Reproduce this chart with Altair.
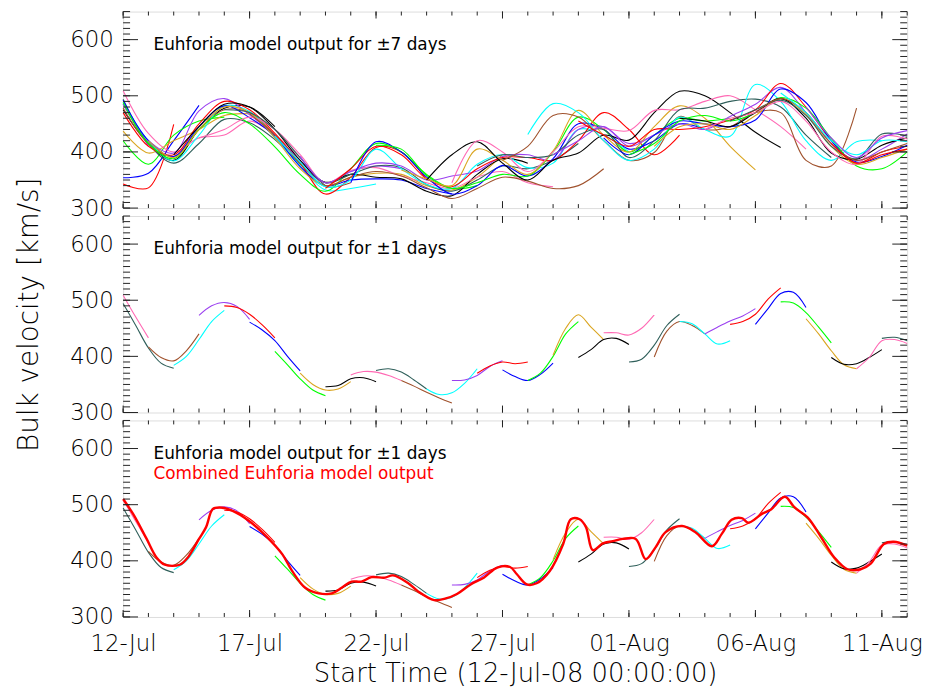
import json
import altair as alt
import pandas as pd

FONT = "DejaVu Sans"
WEIGHT = 200

# colour cycle of the forecast runs (index = centre day mod 10)
COLORS = ["#ff69b4", "#2f5f5a", "#a0522d", "#00ffff", "#9b40f0",
          "#ff0000", "#0000ff", "#00ff00", "#daa520", "#000000"]

# ---- +-7 day runs: centre day, daily values from max(0, d-7) ----
RUN_CENTERS = list(range(-6, 36))
RUN_VALUES = [
    [485, 410],
    [343, 336, 449],
    [354, 362, 420, 483],
    [420, 378, 430, 455, 462],
    [437, 398, 420, 440, 465, 468],
    [475, 415, 385, 440, 478, 480, 445],
    [509, 433, 400, 425, 430, 455, 430, 390],
    [494, 415, 380, 415, 458, 452, 422, 378, 340],
    [478, 415, 392, 440, 475, 470, 430, 380, 338, 345],
    [488, 420, 384, 430, 482, 472, 425, 375, 332, 335, 343],
    [485, 420, 398, 473, 495, 466, 430, 385, 345, 365, 375, 370],
    [470, 410, 395, 450, 490, 475, 433, 380, 325, 355, 408, 400, 350],
    [492, 420, 392, 445, 482, 461, 428, 374, 340, 350, 352, 350, 335, 325],
    [488, 415, 388, 440, 470, 450, 409, 360, 330, 370, 415, 400, 360, 335, 340],
    [420, 390, 440, 480, 470, 425, 370, 340, 355, 362, 360, 340, 332, 355, 395],
    [395, 445, 485, 480, 440, 385, 346, 360, 355, 352, 330, 322, 360, 388, 380],
    [425, 440, 462, 440, 395, 345, 367, 372, 357, 345, 335, 355, 365, 345, 338],
    [475, 470, 440, 390, 345, 360, 375, 372, 342, 330, 350, 375, 370, 385, 415],
    [468, 430, 380, 340, 355, 365, 357, 336, 317, 335, 355, 348, 335, 340, 370],
    [428, 382, 338, 350, 405, 370, 342, 335, 378, 395, 372, 380, 440, 430, 400],
    [392, 345, 365, 380, 375, 350, 357, 366, 392, 395, 385, 440, 445, 415, 430],
    [335, 370, 410, 395, 352, 338, 370, 390, 390, 385, 420, 470, 440, 395, 430],
    [345, 418, 400, 355, 325, 340, 376, 357, 388, 450, 440, 405, 420, 450, 440],
    [412, 405, 358, 335, 345, 360, 357, 400, 462, 440, 400, 430, 460, 455, 460],
    [368, 352, 340, 405, 385, 360, 402, 474, 430, 400, 445, 482, 460, 410, 368],
    [350, 395, 418, 380, 350, 385, 398, 430, 421, 470, 508, 500, 470, 435, 408],
    [345, 420, 400, 365, 400, 445, 442, 438, 474, 475, 490, 500, 475, 445, 405],
    [375, 395, 390, 395, 430, 440, 390, 420, 475, 478, 490, 494, 480, 430, 390],
    [385, 410, 465, 462, 420, 385, 399, 463, 440, 445, 470, 470, 385, 375, 478],
    [431, 486, 470, 420, 385, 405, 462, 440, 428, 520, 490, 420, 385, 418, 420],
    [395, 420, 445, 410, 430, 450, 440, 463, 485, 515, 470, 415, 385, 405, 432],
    [455, 430, 410, 440, 440, 445, 457, 475, 522, 480, 420, 380, 400, 410],
    [425, 395, 430, 455, 450, 445, 457, 512, 488, 420, 382, 392, 412],
    [395, 415, 455, 465, 455, 470, 497, 478, 424, 375, 370, 400],
    [410, 445, 450, 440, 465, 495, 467, 410, 378, 390, 405],
    [460, 455, 445, 470, 495, 460, 398, 387, 412, 425],
    [440, 460, 470, 490, 455, 400, 378, 428, 423],
    [455, 475, 492, 465, 410, 388, 432, 428],
    [470, 495, 470, 415, 385, 400, 415],
    [505, 470, 420, 395, 420, 418],
    [480, 425, 390, 425, 438],
    [415, 380, 395, 405],
]

# ---- +-1 day segments: centre day, half-day values from max(0, d-1) ----
SEG_CENTERS = list(range(0, 32))
SEG_VALUES = [
    [509, 470, 433],
    [494, 455, 415, 388, 379],
    [417, 398, 392, 410, 440],
    [384, 400, 430, 462, 482],
    [473, 490, 496, 489, 466],
    [490, 487, 475, 456, 433],
    [461, 447, 428, 400, 374],
    [409, 385, 360, 340, 330],
    [370, 350, 340, 342, 355],
    [346, 348, 360, 362, 355],
    [367, 373, 372, 366, 357],
    [375, 378, 372, 358, 342],
    [357, 347, 336, 326, 317],
    [342, 332, 335, 352, 378],
    [357, 358, 366, 382, 392],
    [370, 383, 390, 387, 390],
    [376, 364, 357, 368, 388],
    [357, 370, 400, 440, 462],
    [402, 450, 474, 452, 430],
    [398, 412, 430, 432, 421],
    [442, 442, 438, 450, 474],
    [390, 395, 420, 455, 475],
    [399, 445, 462, 455, 440],
    [462, 458, 440, 422, 428],
    [440, 452, 463, 472, 485],
    [457, 462, 475, 502, 522],
    [457, 485, 512, 514, 487],
    [497, 495, 478, 452, 424],
    [467, 440, 410, 385, 378],
    [398, 386, 387, 398, 412],
    [378, 398, 428, 430, 423],
    [432, 434, 428],
]

# ---- combined model output ----
COMB_DAYS = [0, 0.4, 0.93, 1.32, 1.65, 2.24, 2.56, 3.0, 3.28, 3.54,
             3.8, 4.33, 4.98, 5.63, 6.29, 6.68, 7.2, 7.73, 8.25, 8.64,
             9.03, 9.42, 9.82, 10.34, 10.67, 11.25, 11.65, 12.3, 12.76, 13.2,
             13.74, 14.26, 14.79, 15.3, 15.57, 15.96, 16.35, 16.87, 17.4, 17.7,
             18.05, 18.3, 18.57, 18.97, 19.36, 19.75, 20.27, 20.66, 21.05, 21.45,
             22.1, 22.63, 23.28, 23.67, 24.06, 24.46, 24.72, 25.24, 25.63, 26.16,
             26.55, 27.07, 27.6, 28.12, 28.64, 29.16, 29.56, 30.08, 30.47, 31.0]
COMB_VALUES = [510, 483, 439, 406, 393, 393, 406, 439, 460, 492,
               495, 489, 471, 445, 412, 382, 352, 342, 342, 352,
               363, 363, 371, 370, 374, 361, 346, 330, 333, 341,
               358, 370, 388, 389, 376, 358, 360, 382, 430, 474,
               474, 460, 419, 431, 435, 439, 439, 403, 424, 451,
               462, 451, 426, 448, 473, 476, 468, 483, 492, 514,
               495, 477, 442, 406, 385, 385, 395, 430, 434, 427]

X_TICK_DAYS = [0, 5, 10, 15, 20, 25, 30]
X_TICK_LABELS = ["12-Jul", "17-Jul", "22-Jul", "27-Jul", "01-Aug", "06-Aug", "11-Aug"]
Y_TICKS = [300, 400, 500, 600]
X_DOMAIN = [0, 31]
Y_DOMAIN = [300, 650]

TXT7 = "Euhforia model output for \u00b17 days"
TXT1 = "Euhforia model output for \u00b11 days"
TXTC = "Combined Euhforia model output"
YTITLE = "Bulk velocity [km/s]"
XTITLE = "Start Time (12-Jul-08 00:00:00)"

W, H = 790, 198

# ---------------- tables ----------------
run_rows = []
for i, (d, vals) in enumerate(zip(RUN_CENTERS, RUN_VALUES)):
    s = max(0, d - 7)
    for k, v in enumerate(vals):
        run_rows.append({"run": i, "day": s + k, "v": v, "c": COLORS[d % 10]})
runs_df = pd.DataFrame(run_rows)

seg_rows = []
for i, (d, vals) in enumerate(zip(SEG_CENTERS, SEG_VALUES)):
    s = max(0, d - 1)
    for k, v in enumerate(vals):
        seg_rows.append({"run": i, "day": s + 0.5 * k, "v": v, "c": COLORS[d % 10]})
seg_df = pd.DataFrame(seg_rows)

comb_df = pd.DataFrame({"day": COMB_DAYS, "v": COMB_VALUES})

ymin = pd.DataFrame({"v": [v for v in range(300, 651, 10)]})
ymaj = pd.DataFrame({"v": Y_TICKS})
xmin = pd.DataFrame({"day": list(range(0, 32))})
xmaj = pd.DataFrame({"day": X_TICK_DAYS})

xscale = alt.Scale(domain=X_DOMAIN, nice=False, zero=False)
yscale = alt.Scale(domain=Y_DOMAIN, nice=False, zero=False)

label_expr = json.dumps(X_TICK_LABELS) + "[round(datum.value / 5)]"


def xenc(show):
    if show:
        ax = alt.Axis(values=X_TICK_DAYS, labelExpr=label_expr, ticks=False,
                      domain=False, grid=False, labelFontSize=23, labelPadding=16,
                      labelFlush=False, labelOverlap=False, labelFontWeight=WEIGHT,
                      labelColor="#000", title=XTITLE, titleFontSize=26,
                      titleFontWeight=WEIGHT, titlePadding=5, titleColor="#000")
    else:
        ax = None
    return alt.X("day:Q", scale=xscale, axis=ax)


def yenc(title):
    ax = alt.Axis(values=Y_TICKS, ticks=False, domain=False, grid=False,
                  labelFontSize=23, labelPadding=10, labelColor="#000",
                  labelFlush=False, labelFontWeight=WEIGHT,
                  title=title, titleFontSize=28, titleFontWeight=WEIGHT,
                  titlePadding=26, titleColor="#000")
    return alt.Y("v:Q", scale=yscale, axis=ax)


def frame_ticks(show_x, ytitle):
    X = xenc(show_x)
    Y = yenc(ytitle)
    layers = []
    # left / right y ticks (pointing inward)
    for df, ln in ((ymin, 7), (ymaj, 15)):
        layers.append(alt.Chart(df).mark_rule(color="#222", strokeWidth=1).encode(
            y=Y, x=alt.value(0), x2=alt.value(ln)))
        layers.append(alt.Chart(df).mark_rule(color="#222", strokeWidth=1).encode(
            y=Y, x=alt.value(W), x2=alt.value(W - ln)))
    # top / bottom x ticks
    for df, ln in ((xmin, 4), (xmaj, 7)):
        layers.append(alt.Chart(df).mark_rule(color="#222", strokeWidth=1).encode(
            x=X, y=alt.value(0), y2=alt.value(ln)))
        layers.append(alt.Chart(df).mark_rule(color="#222", strokeWidth=1).encode(
            x=X, y=alt.value(H), y2=alt.value(H - ln)))
    return layers, X, Y


def text_layer(texts, X, Y):
    df = pd.DataFrame(texts, columns=["day", "v", "txt", "c"])
    return alt.Chart(df).mark_text(align="left", baseline="middle", fontSize=17,
                                   font=FONT, fontWeight="normal").encode(
        x=X, y=Y, text="txt:N", color=alt.Color("c:N", scale=None))


# Panel 1
l1, X1, Y1 = frame_ticks(False, "")
p1_lines = alt.Chart(runs_df).mark_line(strokeWidth=1.1, interpolate="catmull-rom").encode(
    x=X1, y=Y1, detail="run:N", color=alt.Color("c:N", scale=None))
p1 = alt.layer(p1_lines, *l1, text_layer([[1.2, 591, TXT7, "#000000"]], X1, Y1)).properties(
    width=W, height=H)

# Panel 2
l2, X2, Y2 = frame_ticks(False, YTITLE)
p2_lines = alt.Chart(seg_df).mark_line(strokeWidth=1.1, interpolate="catmull-rom").encode(
    x=X2, y=Y2, detail="run:N", color=alt.Color("c:N", scale=None))
p2 = alt.layer(p2_lines, *l2, text_layer([[1.2, 591, TXT1, "#000000"]], X2, Y2)).properties(
    width=W, height=H)

# Panel 3
l3, X3, Y3 = frame_ticks(True, "")
p3_lines = alt.Chart(seg_df).mark_line(strokeWidth=1.1, interpolate="catmull-rom").encode(
    x=X3, y=Y3, detail="run:N", color=alt.Color("c:N", scale=None))
p3_comb = alt.Chart(comb_df).mark_line(strokeWidth=2.4, color="#ff0000",
                                        interpolate="catmull-rom").encode(x=X3, y=Y3)
p3 = alt.layer(p3_lines, p3_comb, *l3,
               text_layer([[1.2, 591, TXT1, "#000000"], [1.2, 555, TXTC, "#ff0000"]], X3, Y3)
               ).properties(width=W, height=H)

chart = alt.vconcat(p1, p2, p3, spacing=8, bounds="flush").properties(
    padding={"left": 7, "top": 0, "right": 5, "bottom": 0}
).configure_view(stroke="#111", strokeWidth=1.5).configure(font=FONT)

chart.save("out.html", embed_options={"renderer": "svg", "actions": False})
